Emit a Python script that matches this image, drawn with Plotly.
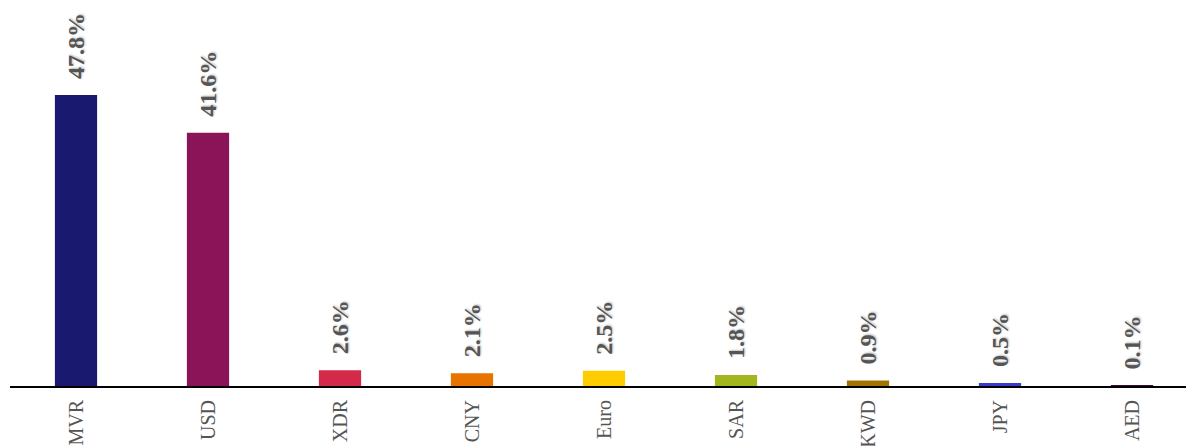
import plotly.graph_objects as go

# Currency composition (% share)
currencies = ["MVR", "USD", "XDR", "CNY", "Euro", "SAR", "KWD", "JPY", "AED"]
shares = [47.8, 41.6, 2.6, 2.1, 2.5, 1.8, 0.9, 0.5, 0.1]
bar_colors = ["#191970", "#8a1457", "#d42a4a", "#e87400", "#ffcc00",
              "#a4b61e", "#a07400", "#3a3acc", "#3a0a3a"]

fig = go.Figure(
    go.Bar(
        x=currencies,
        y=shares,
        marker=dict(color=bar_colors, line=dict(width=0)),
        width=0.32,
        hoverinfo="x+y",
    )
)

# value labels above bars, rotated
for cur, val in zip(currencies, shares):
    fig.add_annotation(
        x=cur, y=val, text=f"{val:.1f}%",
        textangle=-90, showarrow=False,
        xanchor="center", yanchor="bottom", yshift=14,
        font=dict(family="Liberation Serif", size=24, color="#555555",
                  weight="bold", shadow="1px 1px 2px rgba(0,0,0,0.25)"),
    )

fig.update_layout(
    width=1186, height=446,
    margin=dict(l=10, r=0, t=0, b=60),
    plot_bgcolor="white", paper_bgcolor="white",
    showlegend=False,
    xaxis=dict(
        range=[-0.5, 8.409],
        showline=True, linecolor="black", linewidth=2,
        showgrid=False, zeroline=False,
        tickangle=-90, ticks="", ticklabelstandoff=4,
        tickfont=dict(family="Liberation Serif", size=20, color="#555555"),
        automargin=False,
    ),
    yaxis=dict(
        range=[0, 63.4], visible=False, showgrid=False, zeroline=False,
    ),
)

fig.write_html("out.html")
